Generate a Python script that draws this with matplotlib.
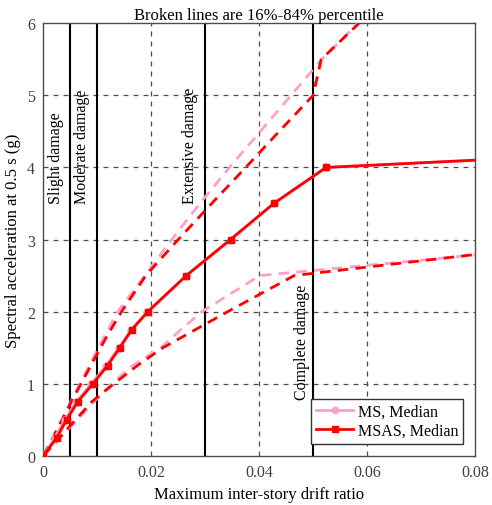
import matplotlib
matplotlib.use("Agg")
import matplotlib.pyplot as plt

# IM levels (spectral acceleration, g)
im_levels = [0, 0.25, 0.5, 0.75, 1.0, 1.25, 1.5, 1.75, 2.0, 2.5, 3.0, 3.5, 4.0, 4.5]
# Median drift
msas_median = [0, 0.0025, 0.0043, 0.0064, 0.0092, 0.0119, 0.0142, 0.0164, 0.0194, 0.0265, 0.0347, 0.0427, 0.0524, 0.19]
ms_median = [0, 0.0021, 0.0040, 0.0061, 0.0089, 0.0116, 0.0140, 0.0163, 0.0193, 0.0265, 0.0347, 0.0427, 0.0524, 0.19]

# Percentile curves
upper_levels = [0, 0.25, 0.5, 0.75, 1.0, 1.25, 1.5, 1.75, 2.0, 2.5, 3.0, 3.5, 4.0, 4.5, 5.0, 5.5, 6.0]
ms_upper = [0, 0.0017, 0.0034, 0.0051, 0.0068, 0.0085, 0.0102, 0.0120, 0.0138, 0.0188, 0.0238, 0.0290, 0.0345, 0.0402, 0.0459, 0.0516, 0.0583]
msas_upper = [0, 0.0018, 0.0035, 0.0052, 0.0070, 0.0088, 0.0106, 0.0125, 0.0145, 0.0190, 0.0250, 0.0312, 0.0375, 0.0437, 0.0500, 0.0515, 0.0585]

lower_levels = [0, 0.25, 0.5, 0.75, 1.0, 1.25, 1.5, 1.75, 2.0, 2.5, 3.0]
ms_lower = [0, 0.0031, 0.0063, 0.0094, 0.0127, 0.0165, 0.0218, 0.0255, 0.0294, 0.0401, 0.110]
msas_lower = [0, 0.0030, 0.0060, 0.0090, 0.0131, 0.0174, 0.0222, 0.0282, 0.0342, 0.0465, 0.104]

# Damage state thresholds
damage_x = [0.005, 0.01, 0.03, 0.05]
damage_labels = ["Slight damage", "Moderate damage", "Extensive damage", "Complete damage"]
label_x = [0.0023, 0.0072, 0.0272, 0.0480]
label_y = [3.5, 3.5, 3.5, 0.79]

xticks = [0, 0.02, 0.04, 0.06, 0.08]
xticklabels = ["0", "0.02", "0.04", "0.06", "0.08"]
yticks = [0, 1, 2, 3, 4, 5, 6]

plt.rcParams['font.family'] = ['Liberation Serif', 'DejaVu Serif']

pink = '#ff9fcc'
red = '#ff0000'

fig = plt.figure(figsize=(4.92, 5.06), dpi=100)
ax = fig.add_axes([0.088, 0.0974, 0.8775, 0.8546])

ax.set_xlim(0, 0.08)
ax.set_ylim(0, 6)

# grid
for xv in xticks[1:-1]:
    ax.axvline(xv, color='0.3', lw=0.9, ls=(0, (4, 4)), zorder=1)
for yv in yticks[1:-1]:
    ax.axhline(yv, color='0.3', lw=0.9, ls=(0, (4, 4)), zorder=1)

for xv in damage_x:
    ax.axvline(xv, color='black', lw=1.5, zorder=2)
for lx, ly, lab in zip(label_x, label_y, damage_labels):
    ax.text(lx, ly, lab, rotation=90, ha='center', va='bottom', fontsize=11.5, zorder=3)

dash = (0, (3.8, 2.6))
ax.plot(ms_upper, upper_levels, color=pink, lw=2, ls=dash, zorder=4)
ax.plot(ms_lower, lower_levels, color=pink, lw=2, ls=dash, zorder=4)
ax.plot(msas_upper, upper_levels, color=red, lw=2, ls=dash, zorder=5)
ax.plot(msas_lower, lower_levels, color=red, lw=2, ls=dash, zorder=5)

ax.plot(ms_median, im_levels, color=pink, lw=2, marker='o', ms=5, label='MS, Median', zorder=6)
ax.plot(msas_median, im_levels, color=red, lw=2, marker='s', ms=4.8, label='MSAS, Median', zorder=7)

ax.set_xticks(xticks)
ax.set_xticklabels(xticklabels)
ax.set_yticks(yticks)
ax.tick_params(direction='in', length=0, labelsize=11.5, colors='0.25', pad=6)
for lab in ax.get_xticklabels() + ax.get_yticklabels():
    lab.set_color('0.25')
for sp in ax.spines.values():
    sp.set_color('0.3')
    sp.set_linewidth(1.0)

ax.set_xlabel('Maximum inter-story drift ratio', fontsize=12, labelpad=4)
ax.set_ylabel('Spectral acceleration at 0.5 s (g)', fontsize=12, labelpad=4)
ax.set_title('Broken lines are 16%-84% percentile', fontsize=12, pad=2)

leg = ax.legend(loc='lower right', fontsize=11.5, fancybox=False, framealpha=1,
                edgecolor='0.2', handlelength=2.3, borderpad=0.3, labelspacing=0.2,
                handletextpad=0.3, borderaxespad=0.75, markerscale=0.9)
leg.get_frame().set_linewidth(1.0)

fig.savefig('out.png', dpi=100)
